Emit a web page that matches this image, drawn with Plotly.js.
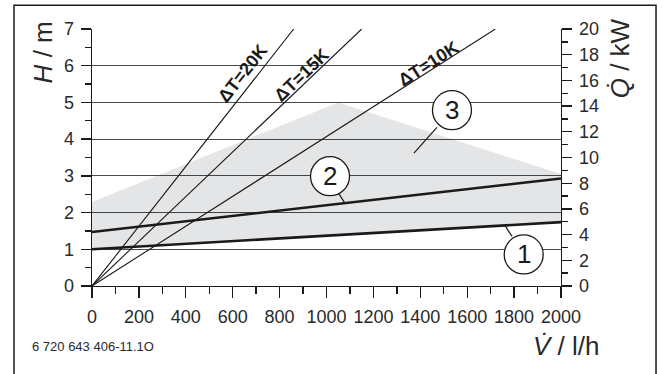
<!DOCTYPE html>
<html>
<head>
<meta charset="utf-8">
<script src="https://cdn.plot.ly/plotly-3.0.1.min.js"></script>
<style>
html,body{margin:0;padding:0;background:#fff;}
#chart{width:662px;height:374px;}
</style>
</head>
<body>
<div id="chart"></div>
<script>
// ---- data ----
// flow rate V̇ in l/h, head H in m
const pumpCurve1V = [0, 2000];
const pumpCurve1H = [1.0, 1.74];
const pumpCurve2V = [0, 2000];
const pumpCurve2H = [1.47, 2.93];
// shaded operating range (3)
const rangeV = [0, 1050, 2000, 2000, 0];
const rangeH = [2.29, 5.0, 3.05, 1.74, 1.0];
// heat output lines Q̇ in kW (right axis) for ΔT
const dT20V = [0, 860];
const dT20Q = [0, 20];
const dT15V = [0, 1150];
const dT15Q = [0, 20];
const dT10V = [0, 1720];
const dT10Q = [0, 20];
const deltaLabels = ['ΔT=20K', 'ΔT=15K', 'ΔT=10K'];
const xTickVals = [0, 200, 400, 600, 800, 1000, 1200, 1400, 1600, 1800, 2000];
const yTickVals = [0, 1, 2, 3, 4, 5, 6, 7];
const y2TickVals = [0, 2, 4, 6, 8, 10, 12, 14, 16, 18, 20];
const curveLabels = ['1', '2', '3'];

const FONT = 'Liberation Sans, Arial, Helvetica, sans-serif';
const INK = '#1a1a1a';

const traces = [
  {x: rangeV, y: rangeH, type: 'scatter', mode: 'lines', fill: 'toself',
   fillcolor: 'rgba(20,22,32,0.115)', line: {width: 0, color: 'rgba(0,0,0,0)'}, hoverinfo: 'skip'},
  {x: pumpCurve1V, y: pumpCurve1H, type: 'scatter', mode: 'lines', line: {color: INK, width: 2.6}},
  {x: pumpCurve2V, y: pumpCurve2H, type: 'scatter', mode: 'lines', line: {color: INK, width: 2.6}},
  {x: dT20V, y: dT20Q, yaxis: 'y2', type: 'scatter', mode: 'lines', line: {color: INK, width: 1.1}},
  {x: dT15V, y: dT15Q, yaxis: 'y2', type: 'scatter', mode: 'lines', line: {color: INK, width: 1.1}},
  {x: dT10V, y: dT10Q, yaxis: 'y2', type: 'scatter', mode: 'lines', line: {color: INK, width: 1.1}}
];

const tickFont = {family: FONT, size: 18, color: '#2a2a2a'};
const axisCommon = {
  ticks: 'outside', tickcolor: INK, tickwidth: 1.3, showline: true, linecolor: INK,
  linewidth: 1.3, zeroline: false, fixedrange: true, tickfont: tickFont
};

// annotation positions (layout, not data)
const circlePos = [[1841, 0.86], [1015, 2.99], [1535, 4.79]];
const deltaPos = [[640, 5.78, -51.9], [895, 5.74, -43.6], [1434, 6.04, -32.5]];
const leaders = [
  [[1761, 1.65], [1791, 1.35]],
  [[1049, 2.55], [1079, 2.25]],
  [[1471, 4.32], [1373, 3.62]]
];

const shapes = [];
leaders.forEach(l => shapes.push({type: 'line', xref: 'x', yref: 'y',
  x0: l[0][0], y0: l[0][1], x1: l[1][0], y1: l[1][1], line: {color: INK, width: 1.2}}));
circlePos.forEach(p => shapes.push({type: 'circle', xref: 'x', yref: 'y',
  xsizemode: 'pixel', ysizemode: 'pixel', xanchor: p[0], yanchor: p[1],
  x0: -19.5, x1: 19.5, y0: -19.5, y1: 19.5, fillcolor: '#fff', line: {color: INK, width: 1.3}, layer: 'above'}));
// outer frame
shapes.push({type: 'rect', xref: 'paper', yref: 'paper', x0: -0.1663, x1: 1.2026, y0: -0.42, y1: 1.0922,
  line: {color: INK, width: 1.5}, fillcolor: 'rgba(0,0,0,0)'});

const annotations = [];
curveLabels.forEach((t, i) => annotations.push({x: circlePos[i][0], y: circlePos[i][1], xref: 'x', yref: 'y',
  text: t, showarrow: false, xanchor: 'center', yanchor: 'middle', font: {family: FONT, size: 26, color: INK}}));
deltaLabels.forEach((t, i) => annotations.push({x: deltaPos[i][0], y: deltaPos[i][1], xref: 'x', yref: 'y',
  text: '<b>' + t + '</b>', textangle: deltaPos[i][2], showarrow: false, xanchor: 'center', yanchor: 'middle',
  font: {family: FONT, size: 18, color: INK}}));
annotations.push({x: -0.1045, y: 0.909, xref: 'paper', yref: 'paper', text: '<i>H</i> / m', textangle: -90,
  showarrow: false, xanchor: 'center', yanchor: 'middle', font: {family: FONT, size: 26, color: '#2a2a2a'}});
annotations.push({x: 1.1258, y: 0.886, xref: 'paper', yref: 'paper', text: '<i>Q\u0307</i> / kW', textangle: -90,
  showarrow: false, xanchor: 'center', yanchor: 'middle', font: {family: FONT, size: 26, color: '#2a2a2a'}});
annotations.push({x: 1.0107, y: -0.2346, xref: 'paper', yref: 'paper', text: '<i>V\u0307</i> / l/h',
  showarrow: false, xanchor: 'center', yanchor: 'middle', font: {family: FONT, size: 26, color: '#2a2a2a'}});
annotations.push({x: -0.1322, y: -0.2335, xref: 'paper', yref: 'paper', text: '6 720 643 406-11.1O',
  showarrow: false, xanchor: 'left', yanchor: 'middle', font: {family: FONT, size: 13, color: '#2a2a2a'}});

const layout = {
  width: 662, height: 374,
  margin: {l: 92, r: 101, t: 29, b: 88, pad: 0},
  paper_bgcolor: '#fff', plot_bgcolor: '#fff',
  showlegend: false,
  font: {family: FONT, size: 18, color: '#2a2a2a'},
  xaxis: Object.assign({}, axisCommon, {
    range: [0, 2000], tickvals: xTickVals, ticklen: 11, showgrid: false, ticklabelstandoff: 3,
    minor: {dtick: 100, ticks: 'outside', ticklen: 7, tickcolor: INK, tickwidth: 1.3, showgrid: false}
  }),
  yaxis: Object.assign({}, axisCommon, {
    range: [0, 7], tickvals: yTickVals, ticklen: 10, showgrid: true, gridcolor: '#4a4a4a', gridwidth: 1,
    ticklabelstandoff: 3,
    minor: {dtick: 0.5, ticks: 'outside', ticklen: 6, tickcolor: INK, tickwidth: 1.3, showgrid: false}
  }),
  yaxis2: Object.assign({}, axisCommon, {
    overlaying: 'y', side: 'right', range: [0, 20], tickvals: y2TickVals, ticklen: 10, showgrid: false,
    ticklabelstandoff: 3,
    minor: {dtick: 1, ticks: 'outside', ticklen: 6, tickcolor: INK, tickwidth: 1.3, showgrid: false}
  }),
  shapes: shapes,
  annotations: annotations
};

Plotly.newPlot('chart', traces, layout, {staticPlot: true, displayModeBar: false});
</script>
</body>
</html>
